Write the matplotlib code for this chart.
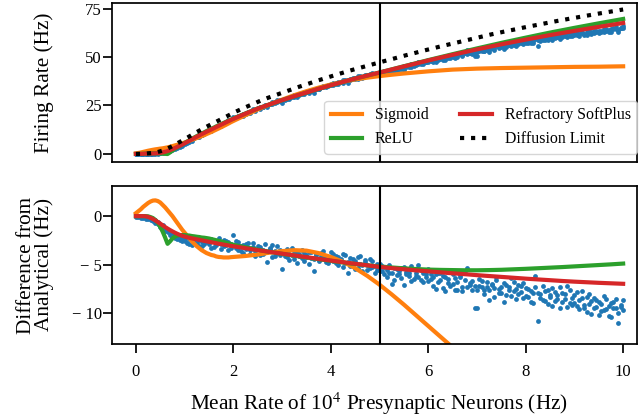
#!/usr/bin/env python3
"""
Firing rate of a neuron driven by 10^4 presynaptic inputs.

Simulated rates (dots) against three rate-model fits and the analytical
diffusion-limit curve; the lower panel shows everything relative to the
analytical curve.
"""

import numpy as np
import matplotlib
matplotlib.use('Agg')
import matplotlib.pyplot as plt

# Simulation / analytical grid: mean presynaptic rate (Hz), step 0.05
SIM_STEP = 0.05
sim_rate_in = np.round(np.arange(0, 201) * SIM_STEP, 2)

# Analytical (diffusion limit) output rate in Hz on the simulation grid
diffusion_limit = [
    0.0, 0.0, 0.05, 0.1, 0.2, 0.3, 0.4, 0.55, 0.75, 1.0,
    1.35, 1.75, 2.25, 2.8, 3.4, 4.05, 4.75, 5.45, 6.15, 6.85,
    7.6, 8.35, 9.1, 9.85, 10.6, 11.3, 12.0, 12.7, 13.35, 14.05,
    14.7, 15.35, 16.0, 16.7, 17.35, 18.0, 18.65, 19.3, 19.95, 20.6,
    21.2, 21.8, 22.4, 22.95, 23.55, 24.1, 24.65, 25.2, 25.8, 26.35,
    26.9, 27.4, 27.9, 28.4, 28.85, 29.3, 29.75, 30.2, 30.7, 31.15,
    31.6, 32.05, 32.5, 32.95, 33.35, 33.8, 34.2, 34.65, 35.05, 35.5,
    35.9, 36.3, 36.75, 37.15, 37.6, 38.0, 38.4, 38.8, 39.2, 39.6,
    40.0, 40.4, 40.75, 41.15, 41.5, 41.9, 42.3, 42.65, 43.05, 43.4,
    43.8, 44.15, 44.5, 44.8, 45.15, 45.5, 45.85, 46.2, 46.5, 46.85,
    47.2, 47.55, 47.9, 48.2, 48.55, 48.9, 49.25, 49.6, 49.9, 50.25,
    50.6, 50.95, 51.25, 51.6, 51.9, 52.25, 52.6, 52.9, 53.25, 53.55,
    53.9, 54.2, 54.5, 54.8, 55.15, 55.45, 55.75, 56.05, 56.4, 56.7,
    57.0, 57.3, 57.6, 57.9, 58.2, 58.5, 58.8, 59.1, 59.4, 59.7,
    60.0, 60.3, 60.55, 60.85, 61.1, 61.4, 61.7, 61.95, 62.25, 62.5,
    62.8, 63.05, 63.3, 63.6, 63.85, 64.1, 64.35, 64.6, 64.9, 65.15,
    65.4, 65.65, 65.9, 66.15, 66.4, 66.65, 66.9, 67.15, 67.4, 67.65,
    67.9, 68.15, 68.35, 68.6, 68.8, 69.05, 69.3, 69.5, 69.75, 69.95,
    70.2, 70.4, 70.65, 70.85, 71.1, 71.3, 71.5, 71.75, 71.95, 72.2,
    72.4, 72.6, 72.8, 73.05, 73.25, 73.45, 73.65, 73.85, 74.1, 74.3,
    74.5,
]

# Simulated rate minus analytical rate (Hz), two runs per grid point
sim_diff_a = [
    0.0, -0.1, 0.0, -0.2, -0.1, -0.3, -0.2, -0.5, -0.4, -0.8,
    -0.9, -1.3, -1.2, -1.6, -1.9, -1.7, -2.3, -2.0, -2.5, -2.2,
    -2.6, -2.1, -2.9, -2.4, -2.2, -2.8, -2.5, -3.1, -2.3, -2.7,
    -2.9, -2.4, -3.2, -2.6, -2.8, -3.4, -2.5, -3.0, -2.7, -3.3,
    -1.9, -3.3, -2.7, -3.6, -3.0, -3.4, -2.8, -3.9, -3.2, -3.6,
    -3.1, -4.0, -3.5, -2.9, -3.7, -3.3, -4.2, -3.6, -3.1, -4.0,
    -5.4, -3.6, -4.2, -3.9, -3.3, -4.4, -3.8, -4.1, -3.5, -4.6,
    -4.0, -3.7, -4.3, -5.6, -3.9, -4.5, -4.1, -3.6, -4.7, -4.2,
    -3.7, -4.6, -4.1, -5.0, -4.4, -3.9, -4.8, -5.9, -4.3, -4.9,
    -4.6, -5.3, -4.1, -5.0, -4.7, -5.5, -4.4, -5.2, -5.8, -4.9,
    -4.9, -5.6, -5.2, -6.3, -5.0, -5.8, -6.6, -5.4, -6.0, -5.3,
    -7.1, -5.7, -6.2, -5.1, -6.5, -5.9, -6.3, -5.5, -6.8, -6.0,
    -5.4, -6.5, -7.2, -6.0, -6.8, -5.8, -7.4, -6.3, -6.9, -5.7,
    -7.0, -6.4, -7.6, -6.1, -7.3, -6.6, -5.3, -7.1, -6.7, -9.4,
    -7.6, -6.5, -7.3, -8.0, -6.8, -7.6, -7.1, -8.3, -6.6, -7.5,
    -7.9, -6.9, -8.1, -7.3, -6.4, -7.7, -8.5, -7.1, -7.8, -6.9,
    -7.4, -8.3, -7.7, -8.9, -6.2, -7.9, -8.4, -7.2, -8.7, -7.6,
    -8.1, -9.2, -7.8, -8.5, -7.3, -8.8, -8.0, -9.3, -7.6, -8.4,
    -8.1, -9.2, -8.6, -7.7, -9.5, -8.3, -9.0, -10.1, -8.4, -9.3,
    -8.8, -9.8, -8.2, -9.6, -10.3, -8.9, -9.4, -8.5, -10.0, -9.1,
    -9.7,
]
sim_diff_b = [
    -0.1, 0.0, -0.2, 0.0, -0.3, -0.1, -0.4, -0.3, -0.7, -0.6,
    -1.1, -0.9, -1.5, -1.4, -1.5, -2.1, -1.8, -2.4, -2.1, -2.6,
    -2.2, -2.8, -2.4, -3.0, -2.6, -2.3, -3.1, -2.7, -2.9, -2.4,
    -2.6, -3.3, -2.5, -3.0, -2.2, -2.9, -3.1, -2.6, -3.5, -2.9,
    -3.0, -2.6, -3.5, -3.1, -3.8, -2.9, -3.3, -3.5, -2.8, -4.1,
    -3.4, -3.2, -3.9, -3.6, -4.7, -3.4, -3.0, -4.1, -3.8, -3.5,
    -3.7, -4.1, -3.4, -4.5, -4.0, -3.6, -4.8, -3.9, -4.3, -3.8,
    -4.2, -4.9, -3.7, -4.4, -4.0, -4.6, -3.8, -4.3, -4.1, -4.8,
    -4.3, -3.9, -4.8, -4.2, -4.6, -5.2, -4.0, -4.7, -5.1, -4.4,
    -5.4, -4.2, -4.9, -5.6, -4.5, -5.0, -5.3, -4.6, -5.1, -5.5,
    -5.6, -5.1, -6.0, -5.5, -5.9, -7.0, -5.3, -6.1, -5.6, -6.4,
    -5.2, -6.0, -5.8, -6.7, -5.4, -6.2, -5.0, -6.6, -5.9, -6.3,
    -6.7, -6.0, -6.3, -7.5, -5.9, -6.6, -6.2, -7.7, -6.5, -7.2,
    -6.0, -7.6, -6.8, -6.3, -7.7, -5.8, -7.3, -6.9, -7.6, -7.2,
    -9.5, -7.2, -6.7, -7.6, -7.3, -8.6, -7.0, -7.4, -6.3, -7.9,
    -7.3, -8.8, -7.1, -7.6, -8.2, -6.8, -7.5, -8.0, -7.2, -8.4,
    -8.2, -7.5, -8.8, -7.9, -7.3, -10.8, -8.0, -8.6, -7.7, -9.0,
    -8.3, -7.4, -8.7, -8.1, -9.4, -7.9, -8.5, -7.2, -8.9, -9.1,
    -8.9, -7.8, -9.6, -8.4, -9.1, -9.9, -8.0, -8.7, -9.4, -8.6,
    -10.2, -9.0, -9.7, -8.5, -9.2, -10.4, -8.8, -9.5, -11.0, -9.3,
    -8.6,
]

# Model grid: 0.05 steps up to 2 Hz, 0.25 steps after
model_rate_in = np.concatenate([np.round(np.arange(0, 41) * 0.05, 2),
                                np.round(np.arange(9, 41) * 0.25, 2)])

# Model rate minus analytical rate (Hz) on the model grid
sigmoid_diff = [
    0.3, 0.5, 0.7, 0.95, 1.15, 1.35, 1.5, 1.6, 1.62, 1.55,
    1.4, 1.15, 0.9, 0.6, 0.3, 0.0, -0.35, -0.7, -1.05, -1.4,
    -1.7, -2.0, -2.3, -2.6, -2.85, -3.1, -3.3, -3.5, -3.65, -3.8,
    -3.9, -4.0, -4.05, -4.15, -4.2, -4.22, -4.25, -4.25, -4.25, -4.22,
    -4.2,
    -4.1, -3.95, -3.75, -3.6, -3.5, -3.55, -3.8, -4.2,
    -4.7, -5.35, -6.15, -7.05, -8.05, -9.1, -10.2, -11.3,
    -12.4, -13.5, -14.75, -16.0, -17.25, -18.5, -19.7, -20.9,
    -22.05, -23.2, -24.25, -25.3, -26.35, -27.4, -28.35, -29.3,
]
relu_diff = [
    0.0, 0.0, 0.0, 0.0, 0.0, -0.02, -0.1, -0.2, -0.4, -0.7,
    -1.1, -1.6, -2.2, -2.85, -2.6, -2.3, -2.1, -2.0, -1.95, -1.95,
    -1.95, -1.98, -2.0, -2.05, -2.08, -2.12, -2.15, -2.2, -2.22, -2.26,
    -2.3, -2.36, -2.42, -2.48, -2.55, -2.6, -2.67, -2.73, -2.8, -2.87,
    -2.95,
    -3.2, -3.45, -3.68, -3.88, -4.07, -4.25, -4.43, -4.6,
    -4.77, -4.92, -5.06, -5.18, -5.28, -5.37, -5.44, -5.5,
    -5.53, -5.55, -5.57, -5.57, -5.55, -5.52, -5.47, -5.42,
    -5.36, -5.3, -5.24, -5.17, -5.1, -5.03, -4.96, -4.88,
]
softplus_diff = [
    0.0, 0.0, 0.0, 0.0, -0.02, -0.08, -0.18, -0.3, -0.45, -0.6,
    -0.77, -0.95, -1.12, -1.28, -1.43, -1.57, -1.7, -1.82, -1.93, -2.02,
    -2.1, -2.17, -2.23, -2.29, -2.34, -2.39, -2.44, -2.49, -2.54, -2.59,
    -2.64, -2.69, -2.74, -2.79, -2.84, -2.88, -2.93, -2.97, -3.02, -3.06,
    -3.1,
    -3.3, -3.5, -3.68, -3.86, -4.04, -4.22, -4.4, -4.57,
    -4.74, -4.9, -5.06, -5.22, -5.35, -5.47, -5.58, -5.68,
    -5.78, -5.88, -5.97, -6.07, -6.16, -6.25, -6.34, -6.43,
    -6.51, -6.59, -6.67, -6.74, -6.8, -6.86, -6.91, -6.96,
]

MODELS = [
    ("Sigmoid", sigmoid_diff, "#ff7f0e"),
    ("ReLU", relu_diff, "#2ca02c"),
    ("Refractory SoftPlus", softplus_diff, "#d62728"),
]
SIM_COLOR = "#1f77b4"
CUT_RATE = 5.0

# Tick positions and labels
rate_ticks = [0, 2, 4, 6, 8, 10]
top_yticks = [0, 25, 50, 75]
bot_yticks = [0, -5, -10]
bot_ytick_labels = ["0", "\u2212 5", "\u2212 10"]

LABEL_SIZE = 15.3
TICK_SIZE = 12
LEGEND_SIZE = 11.4


def style_axes(ax):
    for spine in ax.spines.values():
        spine.set_linewidth(1.25)
    ax.tick_params(direction='out', length=6.2, width=1.25, labelsize=TICK_SIZE)
    ax.tick_params(axis='y', pad=1.0)
    ax.tick_params(axis='x', pad=8.0)


def main():
    plt.rcParams['font.family'] = 'serif'
    plt.rcParams['font.serif'] = ['Liberation Serif', 'DejaVu Serif']
    plt.rcParams['mathtext.fontset'] = 'stix'

    analytic = np.array(diffusion_limit)
    idx = np.rint(model_rate_in / SIM_STEP).astype(int)

    fig = plt.figure(figsize=(6.39, 4.17), dpi=100)
    ax_top = fig.add_axes([0.1753, 0.6127, 0.8220, 0.3794])
    ax_bot = fig.add_axes([0.1753, 0.1751, 0.8220, 0.3789], sharex=ax_top)

    # upper panel: absolute rates
    for diff in (sim_diff_a, sim_diff_b):
        ax_top.scatter(sim_rate_in, analytic + np.array(diff), s=12,
                       color=SIM_COLOR, linewidths=0, zorder=1)
    for name, diff, color in MODELS:
        ax_top.plot(model_rate_in, analytic[idx] + np.array(diff),
                    color=color, lw=3, label=name, zorder=2)
    ax_top.plot(sim_rate_in, analytic, color='k', lw=3, ls=':',
                label="Diffusion Limit", zorder=3)
    ax_top.axvline(CUT_RATE, color='k', lw=1.5, zorder=4)

    # lower panel: relative to the analytical curve
    for diff in (sim_diff_a, sim_diff_b):
        ax_bot.scatter(sim_rate_in, diff, s=12, color=SIM_COLOR,
                       linewidths=0, zorder=1)
    for name, diff, color in MODELS:
        ax_bot.plot(model_rate_in, diff, color=color, lw=3, zorder=2)
    ax_bot.axvline(CUT_RATE, color='k', lw=1.5, zorder=4)

    ax_top.set_xlim(-0.49, 10.29)
    ax_top.set_ylim(-3.9, 77.7)
    ax_bot.set_ylim(-13.15, 3.1)
    ax_top.set_yticks(top_yticks)
    ax_bot.set_yticks(bot_yticks)
    ax_bot.set_yticklabels(bot_ytick_labels)
    ax_bot.set_xticks(rate_ticks)

    style_axes(ax_top)
    style_axes(ax_bot)
    ax_top.tick_params(axis='x', bottom=False, labelbottom=False)

    ax_top.set_ylabel("Firing Rate (Hz)", fontsize=LABEL_SIZE)
    ax_bot.set_ylabel("Difference from\nAnalytical (Hz)", fontsize=LABEL_SIZE,
                      linespacing=0.88)
    ax_top.yaxis.set_label_coords(-0.111, 0.5)
    ax_bot.yaxis.set_label_coords(-0.111, 0.5)
    ax_bot.set_xlabel("Mean Rate of 10$^4$ Presynaptic Neurons (Hz)",
                      fontsize=LABEL_SIZE)
    ax_bot.xaxis.set_label_coords(0.5077, -0.291)

    ax_top.legend(ncol=2, loc='lower right', bbox_to_anchor=(1.0, 0.05),
                  borderaxespad=0, fontsize=LEGEND_SIZE)

    fig.savefig("out.png", dpi=100)


if __name__ == "__main__":
    main()
